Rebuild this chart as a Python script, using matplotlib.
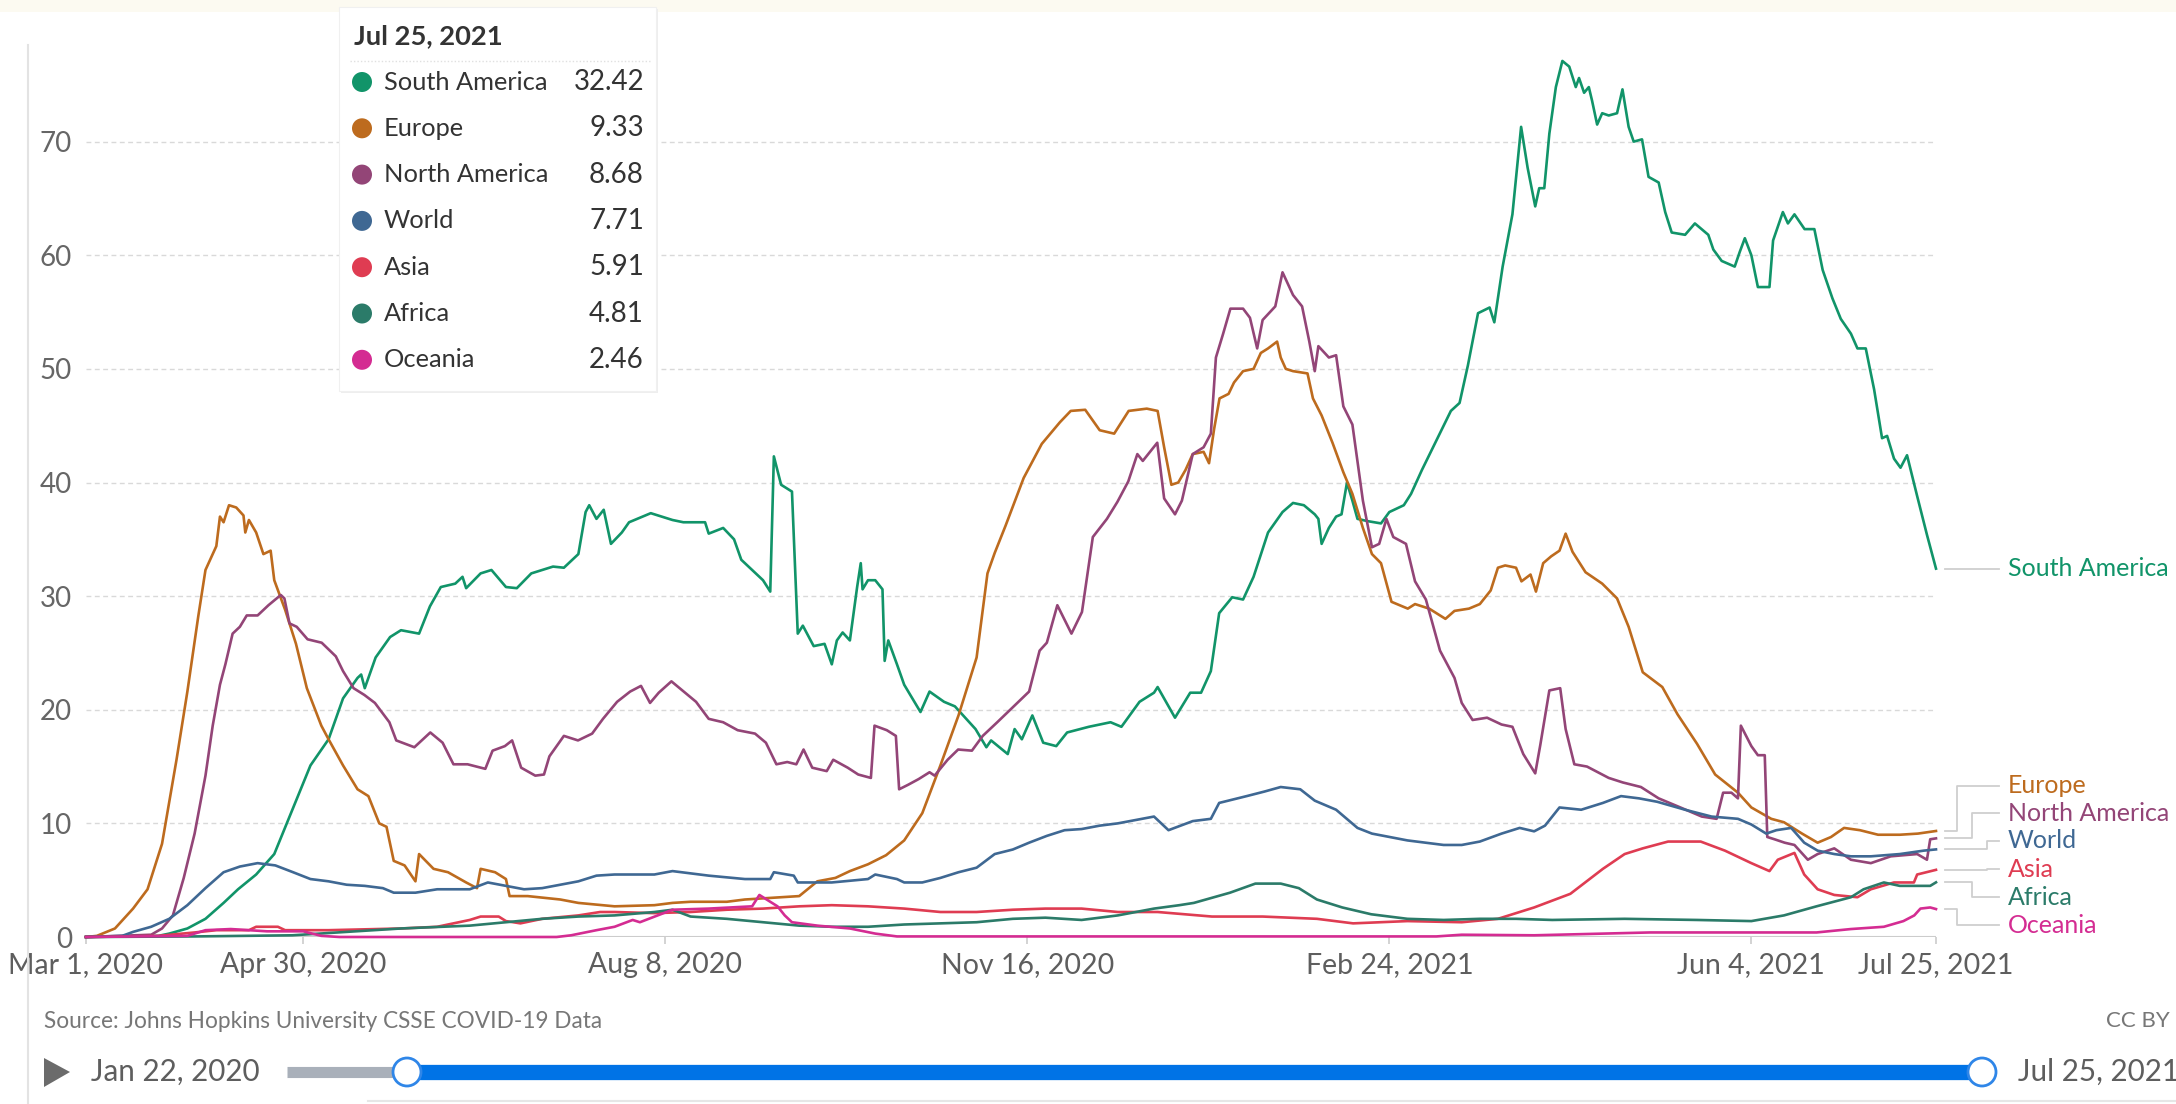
import datetime as dt
import numpy as np
import matplotlib
matplotlib.use("Agg")
import matplotlib.pyplot as plt
import matplotlib.dates as mdates
from matplotlib.patches import Rectangle, Circle, Polygon
from matplotlib.lines import Line2D

plt.rcParams['font.family'] = ['Lato', 'DejaVu Sans']

# ---- data: days since Mar 1, 2020 / daily new deaths per million (7-day avg)
start = dt.date(2020, 3, 1)
end = dt.date(2021, 7, 25)

sa_days = [0, 20, 23, 28, 33, 38, 42, 47, 52, 57, 62, 67, 71, 75, 76, 77, 80, 84, 87, 92,
           95, 98, 102, 104, 105, 109, 112, 116, 119, 123, 129, 132, 136, 138, 139, 141,
           143, 145, 148, 150, 156, 162, 165, 171, 172, 176, 179, 181, 184, 187, 189,
           190, 192, 195, 196.6, 198, 201, 204, 206, 207.4, 209, 211, 213, 214, 214.5,
           216, 218, 220, 220.6, 221.6, 224, 226, 230.5, 233, 237, 240, 245.7, 248.7,
           250, 254.6, 256.5, 258.5, 261.4, 264.4, 268, 271, 277, 283, 286, 291, 295,
           296, 300.8, 305, 308, 310.7, 313, 316.6, 319.6, 322.5, 326.5, 330.5, 333.4,
           336.4, 339.4, 340.4, 341.3, 343.3, 345.3, 346.8, 348.3, 349.8, 351.2, 354,
           357.7, 360, 364, 366, 369, 373, 377, 379.4, 381.7, 384.5, 387.7, 389, 391.3,
           394, 396.4, 398.2, 400.3, 401.4, 402.8, 404.2, 406, 407.8, 409.7, 411.5,
           412.4, 413.8, 415.1, 416, 417.4, 418.8, 420.6, 422.9, 424.4, 426.1, 427.5,
           429.8, 431.6, 434.4, 436.2, 438, 441.7, 444.4, 448.1, 449.5, 451.8, 455.4,
           456.8, 458.2, 460, 461.8, 465, 466, 468.7, 470.1, 471.9, 474.7, 477.4, 479.7,
           482.4, 484.7, 487.5, 489.3, 491.6, 493.9, 496.1, 497.5, 499.4, 501.2, 503,
           505.8, 508.5, 511]
sa_vals = [0, 0.1, 0.3, 0.75, 1.6, 3.0, 4.2, 5.5, 7.3, 11.2, 15.1, 17.4, 21, 22.8, 23.1,
           21.9, 24.6, 26.4, 27, 26.7, 29.1, 30.8, 31.1, 31.7, 30.7, 32, 32.3, 30.8, 30.7,
           32, 32.6, 32.5, 33.7, 37.4, 38, 36.8, 37.6, 34.6, 35.6, 36.5, 37.3, 36.7, 36.5,
           36.5, 35.5, 36, 35, 33.2, 32.3, 31.4, 30.4, 42.3, 39.8, 39.2, 26.7, 27.4, 25.6,
           25.8, 24, 26.1, 26.8, 26.1, 30.8, 32.9, 30.6, 31.4, 31.4, 30.6, 24.3, 26.1, 24,
           22.2, 19.8, 21.6, 20.7, 20.3, 18.3, 16.7, 17.3, 16.1, 18.3, 17.4, 19.5, 17.1,
           16.8, 18, 18.5, 18.9, 18.5, 20.7, 21.5, 22, 19.3, 21.5, 21.5, 23.4, 28.5, 29.9,
           29.7, 31.7, 35.6, 37.4, 38.2, 38, 37.2, 36.8, 34.6, 36, 37, 37.2, 40, 38.4,
           36.8, 36.6, 36.4, 37.4, 38, 39, 41.1, 43.7, 46.3, 47, 50.3, 54.9, 55.4, 54.1,
           59, 63.6, 71.3, 67.7, 64.3, 65.9, 65.9, 70.7, 74.8, 77.1, 76.6, 74.8, 75.6,
           74.3, 74.8, 73.6, 71.5, 72.5, 72.3, 72.5, 74.6, 71.3, 70, 70.2, 66.9, 66.4,
           63.8, 62, 61.8, 62.8, 61.8, 60.5, 59.5, 59, 60.3, 61.5, 60, 57.2, 57.2, 61.3,
           63.8, 62.8, 63.6, 62.3, 62.3, 58.7, 56.2, 54.4, 53.1, 51.8, 51.8, 48.2, 43.9,
           44.1, 42.1, 41.3, 42.4, 38.8, 35.4, 32.42]

eu_days = [0, 3, 8, 13, 17, 21, 25, 28, 31, 33, 36, 37, 38, 39.5, 41.5, 43.5, 44, 45, 47,
           49, 51, 52, 55, 58, 61, 65, 67, 71, 75, 78, 81, 83, 85, 88, 91, 92, 96, 100,
           105, 108, 109, 113, 116, 117, 122, 131, 136, 146, 157, 162, 167, 177, 182, 187,
           197, 202, 207, 211, 216, 221, 226, 231, 236, 241, 246, 249, 251, 254, 259,
           264, 269, 272, 276, 280, 284, 288, 293, 296, 297.8, 299.8, 301.7, 303.7, 305.7,
           308.7, 310.2, 311.6, 313.1, 315.6, 317.1, 319.6, 322.5, 324.5, 326.5, 329,
           330, 331.4, 333.4, 337.4, 338.9, 341.3, 344.3, 347.3, 349.8, 352.7, 355.2,
           357.7, 360.6, 365.1, 367.1, 371, 374, 375.5, 378, 382, 385, 388, 390, 392,
           395, 396.5, 399, 400.5, 402.5, 404.7, 407, 408.7, 410.6, 414.2, 418.8, 422.9,
           426.1, 430, 435.4, 439.6, 445, 450, 456.3, 460, 465.5, 469, 474, 478.3, 482,
           485.6, 490, 495, 501, 506, 511]
eu_vals = [0, 0.1, 0.75, 2.5, 4.2, 8.2, 15.6, 21.6, 28.2, 32.3, 34.4, 37, 36.5, 38, 37.8,
           37.1, 35.6, 36.7, 35.6, 33.7, 34, 31.4, 28.8, 25.8, 21.9, 18.6, 17.4, 15.1, 13,
           12.4, 10, 9.7, 6.7, 6.3, 4.9, 7.3, 6, 5.7, 4.8, 4.3, 6, 5.7, 5.1, 3.6, 3.6, 3.3,
           3.0, 2.7, 2.8, 3.0, 3.1, 3.1, 3.3, 3.4, 3.6, 4.9, 5.2, 5.8, 6.4, 7.2, 8.5, 10.9,
           15.1, 19.5, 24.6, 32, 33.8, 36.2, 40.4, 43.4, 45.3, 46.3, 46.4, 44.6, 44.3,
           46.3, 46.5, 46.3, 43.1, 39.8, 40, 41.1, 42.5, 42.7, 41.7, 44.7, 47.4, 47.8, 48.8,
           49.8, 50, 51.4, 51.8, 52.4, 51, 50, 49.8, 49.6, 47.4, 45.9, 43.5, 40.9, 39, 36,
           33.7, 32.9, 29.5, 28.9, 29.3, 28.9, 28.3, 28, 28.7, 28.9, 29.3, 30.5, 32.5,
           32.7, 32.5, 31.3, 31.9, 30.4, 32.9, 33.5, 34, 35.5, 33.9, 32.1, 31.1, 29.8,
           27.3, 23.3, 22, 19.6, 17, 14.3, 12.7, 11.4, 10.4, 10.1, 9.1, 8.3, 8.8, 9.6,
           9.4, 9.0, 9.0, 9.1, 9.33]

na_days = [0, 18, 21, 24, 27, 30, 33, 35, 37, 38.5, 40.5, 42.5, 44.4, 47.4, 50.4, 53.8,
           54.8, 56.2, 58.2, 61.2, 65.1, 69, 71, 73.9, 76.9, 79.8, 83.8, 85.7, 90.7, 95.1,
           98.5, 101.5, 105.4, 110.3, 112.3, 115.7, 117.7, 120.2, 124.1, 126.5, 128, 132,
           135.9, 139.8, 142.8, 146.7, 150.3, 153.3, 155.8, 158.2, 161.7, 165.1, 168.5,
           172, 176, 180, 184.8, 187.8, 190.7, 193.7, 196.2, 198.2, 200.6, 204.6, 206.4,
           210.4, 213.3, 216.8, 217.8, 221.2, 223.7, 224.6, 227.1, 230, 233, 234.4, 238,
           240.9, 244.7, 247.7, 251.7, 255.6, 260.5, 263.4, 265.4, 268.3, 272.2, 275.1,
           278.1, 282, 284.9, 287.9, 290.4, 291.9, 295.9, 297.8, 300.8, 302.7, 305.7,
           308.7, 310.7, 312.1, 314.1, 316.1, 319.6, 321.5, 323.5, 325, 328.5, 330.5,
           333.4, 335.9, 337.9, 339.4, 340.4, 343.3, 345.3, 347.3, 349.8, 352.7, 355.2,
           357.2, 359.2, 361.1, 364.6, 367.1, 370.1, 374, 378, 380, 383, 387, 391, 394,
           397, 400.3, 401.7, 404.2, 407.2, 408.7, 411.1, 414.6, 420.6, 424.5, 429.5,
           434.4, 440.4, 446.3, 450.4, 452.2, 454.5, 456.3, 457.1, 460, 461.8, 463.7,
           464.4, 466.4, 469.2, 471.9, 475.6, 478.3, 482.9, 487.5, 493, 498.5, 505.8,
           508.5, 509.4, 511]
na_vals = [0, 0.2, 0.75, 1.9, 5.2, 9.1, 14.2, 18.6, 22.2, 24, 26.7, 27.3, 28.3, 28.3, 29.2,
           30.1, 29.8, 27.6, 27.3, 26.2, 25.9, 24.7, 23.4, 21.9, 21.3, 20.6, 18.9, 17.3,
           16.7, 18, 17.1, 15.2, 15.2, 14.8, 16.4, 16.8, 17.3, 14.9, 14.2, 14.3, 15.9, 17.7,
           17.3, 17.9, 19.2, 20.7, 21.6, 22.1, 20.6, 21.5, 22.5, 21.6, 20.7, 19.2, 18.9,
           18.2, 17.9, 17.1, 15.2, 15.4, 15.2, 16.5, 14.9, 14.6, 15.6, 14.9, 14.3, 14,
           18.6, 18.2, 17.7, 13, 13.4, 13.9, 14.5, 14.2, 15.6, 16.5, 16.4, 17.7, 18.9,
           20.1, 21.6, 25.2, 25.9, 29.2, 26.7, 28.6, 35.2, 36.8, 38.3, 40.1, 42.5, 41.9,
           43.5, 38.6, 37.2, 38.4, 42.5, 43.1, 44.3, 51, 53.1, 55.3, 55.3, 54.5, 51.8,
           54.3, 55.5, 58.5, 56.5, 55.5, 52.4, 49.8, 52, 51, 51.2, 46.7, 45.1, 38.4, 34.3,
           34.6, 36.8, 35.2, 34.6, 31.3, 29.7, 25.2, 22.8, 20.6, 19.1, 19.3, 18.7, 18.5,
           16.1, 14.4, 16.9, 21.7, 21.9, 18.3, 15.2, 15, 14, 13.6, 13.2, 12.2, 11.4, 10.6,
           10.4, 12.7, 12.7, 12.2, 18.6, 16.8, 16, 16, 8.8, 8.6, 8.3, 8.1, 6.8, 7.3, 7.8,
           6.8, 6.5, 7.1, 7.3, 6.8, 8.6, 8.68]

wo_days = [0, 10, 13, 18, 23, 28, 33, 38, 42.5, 47.4, 52.3, 57.2, 62, 67, 72, 77, 82, 85,
           91, 97, 106, 111, 116, 121, 126, 131, 136, 141, 146, 152, 157, 162, 172, 182,
           189, 190, 195.5, 196.6, 206, 216, 218, 224, 226, 231, 236, 241, 246, 251, 256,
           260.5, 265.4, 270.3, 275, 280, 285, 290, 295, 299, 305.7, 310.7, 313, 320.6,
           325.5, 330, 335.4, 339.4, 345.3, 351.2, 355.2, 365, 375, 380, 385, 391, 396,
           400, 403, 407, 413, 419, 424, 429, 434, 441.7, 449, 456.3, 460, 464.1, 466.9,
           471, 474.6, 478.3, 482.9, 487.5, 493, 501, 507.6, 511]
wo_vals = [0, 0.1, 0.45, 0.9, 1.6, 2.8, 4.3, 5.7, 6.2, 6.5, 6.3, 5.7, 5.1, 4.9, 4.6, 4.5,
           4.3, 3.9, 3.9, 4.2, 4.2, 4.8, 4.5, 4.2, 4.3, 4.6, 4.9, 5.4, 5.5, 5.5, 5.5, 5.8,
           5.4, 5.1, 5.1, 5.7, 5.4, 4.8, 4.8, 5.1, 5.5, 5.1, 4.8, 4.8, 5.2, 5.7, 6.1, 7.3,
           7.7, 8.3, 8.9, 9.4, 9.5, 9.8, 10, 10.3, 10.6, 9.4, 10.2, 10.4, 11.8, 12.4, 12.8,
           13.2, 13, 12, 11.2, 9.6, 9.1, 8.5, 8.1, 8.1, 8.4, 9.1, 9.6, 9.3, 9.8, 11.4, 11.2,
           11.8, 12.4, 12.2, 11.9, 11.2, 10.6, 10.4, 9.9, 9.1, 9.4, 9.6, 8.3, 7.6, 7.3, 7.1,
           7.1, 7.3, 7.6, 7.71]

as_days = [0, 20, 30, 36, 45, 47, 53, 55, 67, 87, 97, 106, 109, 114, 116, 120, 126, 136,
           142, 146, 157, 167, 177, 187, 197, 206, 216, 226, 236, 246, 256, 265, 275, 285,
           296, 311, 325, 340, 350, 365, 380, 390, 400, 410, 419, 425, 430, 437, 446,
           452.7, 460, 465, 467.3, 471.9, 474.6, 478.3, 482.9, 489.3, 493, 499.4, 504.9,
           505.8, 511]
as_vals = [0, 0.1, 0.4, 0.6, 0.6, 0.9, 0.9, 0.6, 0.6, 0.75, 0.9, 1.5, 1.8, 1.8, 1.4, 1.2,
           1.6, 1.9, 2.2, 2.2, 2.1, 2.2, 2.4, 2.5, 2.7, 2.8, 2.7, 2.5, 2.2, 2.2, 2.4, 2.5,
           2.5, 2.2, 2.2, 1.8, 1.8, 1.6, 1.2, 1.4, 1.3, 1.6, 2.6, 3.8, 6, 7.3, 7.8, 8.4,
           8.4, 7.6, 6.5, 5.8, 6.8, 7.4, 5.5, 4.2, 3.7, 3.5, 4.2, 4.8, 4.8, 5.5, 5.91]

af_days = [0, 30, 57, 87, 106, 116, 126, 136, 146, 157, 162, 167, 177, 187, 197, 206, 216,
           226, 236, 246, 256, 265, 275, 285, 295, 302, 306, 316, 323, 330, 335, 340, 347,
           355, 365, 375, 385, 395, 405, 425, 445, 460, 469, 478, 487.5, 491, 496.6, 501,
           509.4, 511]
af_vals = [0, 0.05, 0.15, 0.75, 1, 1.3, 1.6, 1.8, 1.9, 2.2, 2.4, 1.8, 1.6, 1.3, 1.0, 0.9,
           0.9, 1.1, 1.2, 1.3, 1.6, 1.7, 1.5, 1.9, 2.5, 2.8, 3, 3.9, 4.7, 4.7, 4.3, 3.3, 2.6,
           2, 1.6, 1.5, 1.6, 1.6, 1.5, 1.6, 1.5, 1.4, 1.9, 2.7, 3.5, 4.2, 4.8, 4.5, 4.5,
           4.81]

oc_days = [0, 28, 33, 40, 50, 60, 65, 70, 130, 134, 141, 146, 151, 153, 162, 172, 184, 186,
           189, 191, 193, 195, 202, 211, 218, 224, 373, 380, 400, 432, 478, 487.5, 496.6,
           502, 505, 506.7, 509.4, 511]
oc_vals = [0, 0.1, 0.6, 0.7, 0.5, 0.5, 0.1, 0, 0, 0.15, 0.6, 0.9, 1.5, 1.3, 2.4, 2.5, 2.7,
           3.7, 3.1, 2.7, 1.9, 1.3, 1.0, 0.75, 0.3, 0.05, 0.05, 0.2, 0.15, 0.4, 0.4, 0.7,
           0.9, 1.4, 1.9, 2.5, 2.6, 2.46]

names = ["South America", "Europe", "North America", "World", "Asia", "Africa", "Oceania"]
colors = ["#119469", "#bd6b1e", "#934577", "#3f6893", "#df3c52", "#2b7b69", "#d42c92"]
all_days = [sa_days, eu_days, na_days, wo_days, as_days, af_days, oc_days]
all_vals = [sa_vals, eu_vals, na_vals, wo_vals, as_vals, af_vals, oc_vals]

tick_dates = [dt.date(2020, 3, 1), dt.date(2020, 4, 30), dt.date(2020, 8, 8),
              dt.date(2020, 11, 16), dt.date(2021, 2, 24), dt.date(2021, 6, 4),
              dt.date(2021, 7, 25)]
y_ticks = [0, 10, 20, 30, 40, 50, 60, 70]

# label stack on the right (y in data units) and bend offsets (days past end)
label_y = [None, 13.3, 10.9, 8.45, 5.95, 3.5, 1.05]
bend_x = [None, 5.7, 9.9, 14.0, 14.0, 9.9, 5.7]

W, H = 2176, 1104
fig = plt.figure(figsize=(W / 100, H / 100), dpi=100)
fig.patch.set_facecolor("white")


def fx(px):
    return px / W


def fy(py):
    return 1 - py / H


ax = fig.add_axes([fx(86), fy(937), fx(1936) - fx(86), fy(28) - fy(937)])
x0 = mdates.date2num(start)
x1 = mdates.date2num(end)
ax.set_xlim(x0, x1)
ax.set_ylim(0, 80)
for s in ax.spines.values():
    s.set_visible(False)

for v in y_ticks[1:]:
    ax.axhline(v, color="#d9d9d9", lw=1, ls=(0, (3.5, 2.5)), zorder=0)
ax.axhline(0, color="#cccccc", lw=1.5, zorder=0)

ax.set_yticks(y_ticks)
ax.set_yticklabels([str(v) for v in y_ticks])
ax.tick_params(axis="y", length=0, pad=10, labelsize=20, labelcolor="#666666")
ax.set_xticks([mdates.date2num(d) for d in tick_dates])
ax.set_xticklabels([f"{d:%b} {d.day}, {d.year}" for d in tick_dates])
ax.tick_params(axis="x", length=5, width=1.2, color="#cccccc", pad=6,
               labelsize=20.5, labelcolor="#5e5e5e")

for name, days, vals, c in zip(names, all_days, all_vals, colors):
    ax.plot(x0 + np.array(days), vals, color=c, lw=1.9, solid_joinstyle="round",
            clip_on=False, zorder=2)

# right-hand labels with connectors
for i, (name, vals, c) in enumerate(zip(names, all_vals, colors)):
    yv = vals[-1]
    ly = yv if label_y[i] is None else label_y[i]
    if bend_x[i] is None:
        xs = [x1 + 2.5, x1 + 17.4]
        ys = [yv, yv]
    else:
        xs = [x1 + 2.5, x1 + bend_x[i], x1 + bend_x[i], x1 + 17.4]
        ys = [yv, yv, ly, ly]
    ax.plot(xs, ys, color="#cfcfcf", lw=1.3, clip_on=False, zorder=1)
    ax.text(x1 + 19.9, ly, name, color=c, fontsize=18, va="center", ha="left",
            clip_on=False)

# top strip and frame lines
fig.add_artist(Rectangle((0, fy(12)), 1, fy(0) - fy(12), transform=fig.transFigure,
                         facecolor="#fcfaf1", edgecolor="none", zorder=0))
fig.add_artist(Line2D([fx(28), fx(28)], [fy(45), fy(1104)], transform=fig.transFigure,
                      color="#e3e3e3", lw=1.5))
fig.add_artist(Line2D([fx(368), fx(2176)], [fy(1101), fy(1101)],
                      transform=fig.transFigure, color="#e6e6e6", lw=1.5))

# tooltip box
fig.add_artist(Rectangle((fx(341), fy(393)), fx(656) - fx(339), fy(7) - fy(391),
                         transform=fig.transFigure, facecolor="#eeeeee",
                         edgecolor="none", zorder=4))
fig.add_artist(Rectangle((fx(339), fy(391)), fx(656) - fx(339), fy(7) - fy(391),
                         transform=fig.transFigure, facecolor="white",
                         edgecolor="#f0f0f0", lw=0.8, zorder=5))
fig.text(fx(354), fy(36), f"{end:%b} {end.day}, {end.year}", fontsize=19.7,
         fontweight="bold", color="#333333", va="center", ha="left", zorder=6)
fig.add_artist(Line2D([fx(350), fx(650)], [fy(61), fy(61)], transform=fig.transFigure,
                      color="#e0e0e0", lw=1, ls=(0, (1, 1.5)), zorder=6))
order = sorted(range(len(names)), key=lambda k: -all_vals[k][-1])
for r, k in enumerate(order):
    yy = 82 + r * 46.3
    fig.add_artist(Circle((362 / 100, (H - yy) / 100), 10 / 100,
                          transform=fig.dpi_scale_trans, facecolor=colors[k],
                          edgecolor="none", zorder=6))
    fig.text(fx(384), fy(yy), names[k], fontsize=18.3, color="#333333",
             va="center", ha="left", zorder=6)
    fig.text(fx(644), fy(yy), f"{all_vals[k][-1]:.2f}", fontsize=20, color="#333333",
             va="center", ha="right", zorder=6)

# footer
fig.text(fx(44), fy(1021), "Source: Johns Hopkins University CSSE COVID-19 Data",
         fontsize=16.3, color="#777777", va="center", ha="left")
fig.text(fx(2170), fy(1021), "CC BY", fontsize=16, color="#777777",
         va="center", ha="right")

# timeline slider
ys = 1072
fig.add_artist(Polygon([(44 / 100, (H - 1058) / 100), (44 / 100, (H - 1087) / 100),
                        (70 / 100, (H - ys) / 100)], closed=True,
                       transform=fig.dpi_scale_trans, facecolor="#6b6b6b",
                       edgecolor="none"))
fig.text(fx(91), fy(ys), "Jan 22, 2020", fontsize=21.3, color="#5e5e5e",
         va="center", ha="left")
fig.text(fx(2018), fy(ys), f"{end:%b} {end.day}, {end.year}", fontsize=21.3,
         color="#5e5e5e", va="center", ha="left")
fig.add_artist(Line2D([fx(287), fx(407)], [fy(ys), fy(ys)], transform=fig.transFigure,
                      color="#a9b0ba", lw=8, solid_capstyle="butt"))
fig.add_artist(Line2D([fx(407), fx(1982)], [fy(ys), fy(ys)], transform=fig.transFigure,
                      color="#0073e6", lw=11, solid_capstyle="butt"))
for cx in (407, 1982):
    fig.add_artist(Circle((cx / 100, (H - ys) / 100), 14 / 100,
                          transform=fig.dpi_scale_trans, facecolor="white",
                          edgecolor="#2f86e8", lw=2, zorder=3))

fig.savefig("out.png", dpi=100)
